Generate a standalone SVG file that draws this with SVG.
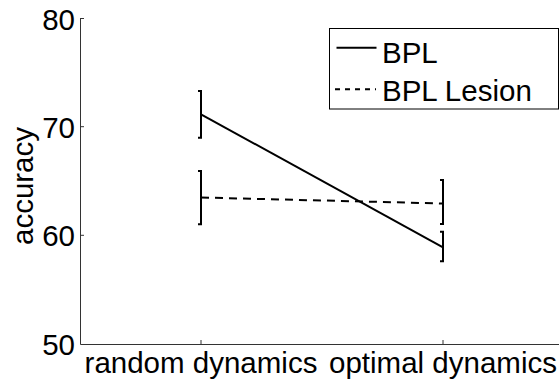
<svg xmlns="http://www.w3.org/2000/svg" width="559" height="381" viewBox="0 0 559 381">
<style>
text{font-family:"Liberation Sans",Arial,Helvetica,sans-serif;font-size:29.5px;fill:#000}
.ax{stroke:#333;stroke-width:1;fill:none}
.solid{stroke:#000;stroke-width:2;fill:none}
.dash{stroke:#000;stroke-width:2;fill:none;stroke-dasharray:8 6}
.eb{stroke:#000;stroke-width:2;fill:none}
</style>
<rect width="559" height="381" fill="#fff"/>
<g id="axes">
<path class="ax" d="M80.5,18 V344.5 H559"/>
<path class="ax" d="M80.5,18.5 H84 M80.5,126.7 H84 M80.5,235.3 H84 M201,344 V340 M443,344 V340"/>
<text x="75" y="29.5" text-anchor="end">80</text>
<text x="75" y="137.5" text-anchor="end">70</text>
<text x="75" y="246" text-anchor="end">60</text>
<text x="75" y="354.5" text-anchor="end">50</text>
<text x="201" y="373" text-anchor="middle">random dynamics</text>
<text x="443" y="373" text-anchor="middle">optimal dynamics</text>
<text transform="translate(33,186) rotate(-90)" text-anchor="middle">accuracy</text>
</g>
<g id="connectors">
<path class="solid" d="M201,114.3 L443,247.3"/>
<path class="dash" d="M201,197.5 L443,203.5"/>
</g>
<g id="bpl-errorbars">
<path class="eb" d="M201,91 V137.7 M198,91 H202 M198,137.7 H202"/>
<path class="eb" d="M443,231.7 V261.3 M440,231.7 H444 M440,261.3 H444"/>
</g>
<g id="lesion-errorbars">
<path class="eb" d="M201,171 V224.3 M198,171 H202 M198,224.3 H202"/>
<path class="eb" d="M443,180 V224 M440,180 H444 M440,224 H444"/>
</g>
<g id="legend">
<rect x="329.5" y="28.5" width="229" height="80.5" fill="#fff" stroke="#000" stroke-width="1"/>
<path class="solid" d="M336.5,47.7 H376.5"/>
<path stroke="#000" stroke-width="2" fill="none" stroke-dasharray="5 5" d="M335,89.3 H376"/>
<text x="382" y="62.5">BPL</text>
<text x="382" y="101">BPL Lesion</text>
</g>
</svg>
